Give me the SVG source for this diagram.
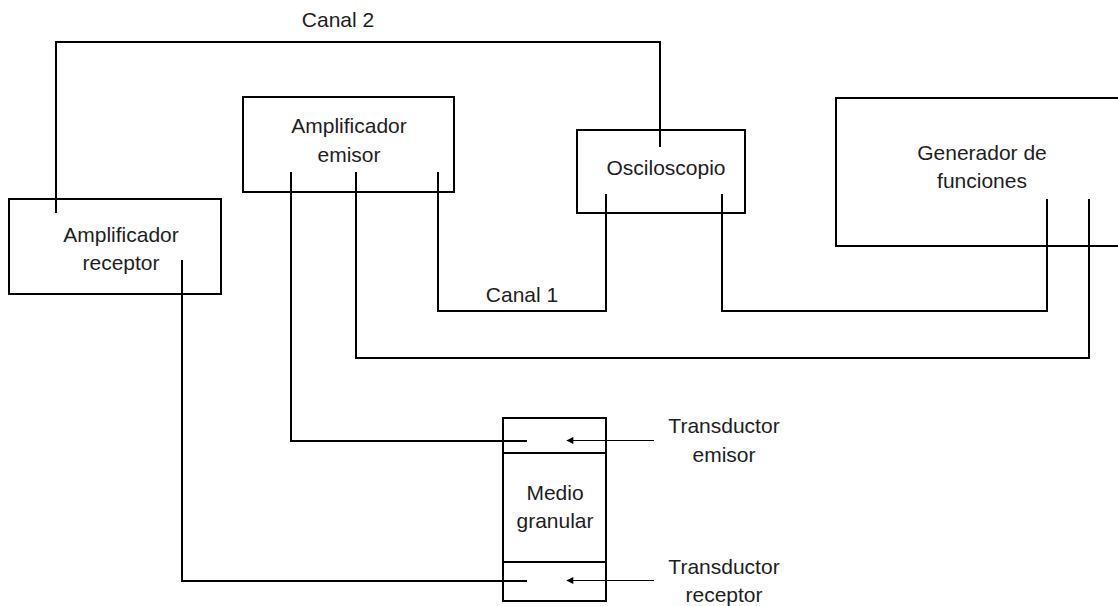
<svg xmlns="http://www.w3.org/2000/svg" width="1118" height="606" viewBox="0 0 1118 606">
<defs>
<style>
.box{fill:none;stroke:#000;stroke-width:2}
.wire{fill:none;stroke:#000;stroke-width:2}
.ptr{fill:none;stroke:#000;stroke-width:1}
text{font-family:"Liberation Sans",Arial,sans-serif;font-size:21px;fill:#1e1e1e;text-anchor:middle}
</style>
<marker id="ah" viewBox="0 0 10 10" refX="9" refY="5" markerWidth="8" markerHeight="7" markerUnits="userSpaceOnUse" orient="auto">
<path d="M0,0 L10,5 L0,10 z" fill="#000"/>
</marker>
</defs>
<rect width="1118" height="606" fill="#fff"/>
<g id="connectors">
<polyline class="wire" points="56,213 56,42 660,42 660,147"/>
<polyline class="wire" points="182,260 182,581 527,581"/>
<polyline class="wire" points="291,172 291,441 527,441"/>
<polyline class="wire" points="356,172 356,358 1089,358 1089,199"/>
<polyline class="wire" points="438,172 438,311 606,311 606,194"/>
<polyline class="wire" points="722,194 722,311 1047,311 1047,199"/>
<line class="ptr" x1="654" y1="440.5" x2="567" y2="440.5" marker-end="url(#ah)"/>
<line class="ptr" x1="654" y1="580.5" x2="567" y2="580.5" marker-end="url(#ah)"/>
<text x="338" y="27">Canal 2</text>
<text x="522" y="302">Canal 1</text>
</g>
<g id="amp-receptor">
<rect class="box" x="9" y="199" width="212" height="95"/>
<text x="121" y="242">Amplificador</text>
<text x="121" y="270">receptor</text>
</g>
<g id="amp-emisor">
<rect class="box" x="243" y="97" width="211" height="95"/>
<text x="349" y="133">Amplificador</text>
<text x="349" y="162">emisor</text>
</g>
<g id="osciloscopio">
<rect class="box" x="577" y="130" width="168" height="83"/>
<text x="666" y="175">Osciloscopio</text>
</g>
<g id="generador">
<rect class="box" x="836" y="98" width="300" height="148"/>
<text x="982" y="160">Generador de</text>
<text x="982" y="188">funciones</text>
</g>
<g id="medio">
<rect class="box" x="503" y="418" width="103" height="183"/>
<line class="box" x1="503" y1="453" x2="606" y2="453"/>
<line class="box" x1="503" y1="562" x2="606" y2="562"/>
<text x="555" y="500">Medio</text>
<text x="555" y="528">granular</text>
</g>
<g id="transductor-emisor">
<text x="724" y="433">Transductor</text>
<text x="724" y="462">emisor</text>
</g>
<g id="transductor-receptor">
<text x="724" y="574">Transductor</text>
<text x="724" y="602">receptor</text>
</g>
</svg>
